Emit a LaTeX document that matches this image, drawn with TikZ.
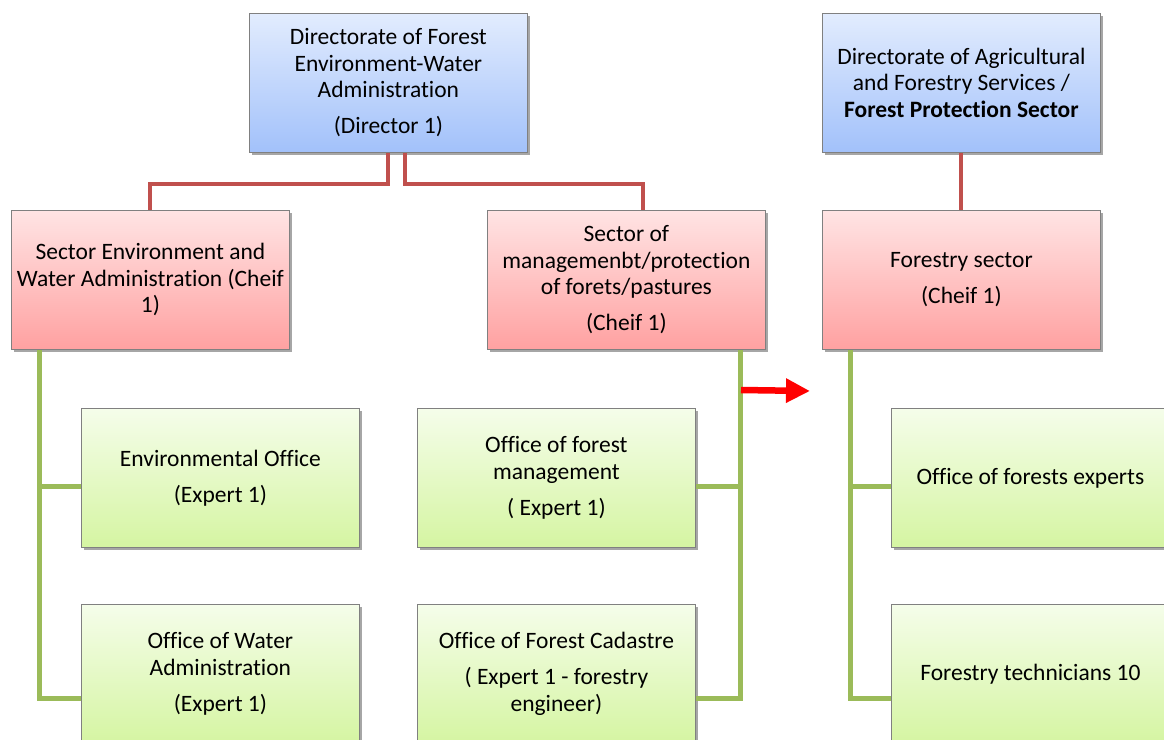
\documentclass[tikz,border=0pt]{standalone}
\usepackage{fontspec}
\setmainfont{Carlito}[Ligatures=NoCommon]
\usetikzlibrary{shadows}
\usetikzlibrary{arrows.meta}
\definecolor{blueTop}{HTML}{E2ECFE}
\definecolor{blueBot}{HTML}{A2C1FA}
\definecolor{pinkTop}{HTML}{FFE4E4}
\definecolor{pinkBot}{HTML}{FFA1A1}
\definecolor{greenTop}{HTML}{F5FDEA}
\definecolor{greenBot}{HTML}{D5F5A2}
\definecolor{linkRed}{HTML}{C0504D}
\definecolor{linkGreen}{HTML}{9BBB59}
\tikzset{
	orgbox/.style={draw=black!50, line width=0.8pt, minimum width=278pt, minimum height=139pt,
		align=center, inner sep=0pt, anchor=north west, font=\fontsize{23.5}{26.5}\selectfont,
		drop shadow={shadow xshift=2.5pt, shadow yshift=-3pt, opacity=0.35, fill=black}},
	dirbox/.style={orgbox, top color=blueTop, bottom color=blueBot},
	secbox/.style={orgbox, top color=pinkTop, bottom color=pinkBot},
	offbox/.style={orgbox, top color=greenTop, bottom color=greenBot},
	redlink/.style={draw=linkRed, line width=4pt},
	greenlink/.style={draw=linkGreen, line width=5pt},
}
\begin{document}
\begin{tikzpicture}[x=1pt,y=-1pt]
	\useasboundingbox (0,0) rectangle (1164,739);
	
	%directorates
	\node[dirbox] (dirFor) at (249,13) {Directorate of Forest\\Environment-Water\\Administration\\[9.5pt](Director 1)};
	\node[dirbox] (dirAgr) at (822,13) {Directorate of Agricultural\\and Forestry Services /\\\textbf{Forest Protection Sector}};
	
	%sectors
	\node[secbox] (secEnv) at (11,210) {Sector Environment and\\Water Administration (Cheif\\1)};
	\node[secbox] (secMan) at (487,210) {Sector of\\managemenbt/protection\\of forets/pastures\\[9.5pt](Cheif 1)};
	\node[secbox] (secFor) at (822,210) {Forestry sector\\[9.5pt](Cheif 1)};
	
	%offices
	\node[offbox] (offEnv) at (81,408) {Environmental Office\\[9.5pt](Expert 1)};
	\node[offbox] (offWat) at (81,604) {Office of Water\\Administration\\[9.5pt](Expert 1)};
	\node[offbox] (offMan) at (417,408) {Office of forest\\management\\[9.5pt]( Expert 1)};
	\node[offbox] (offCad) at (417,604) {Office of Forest Cadastre\\[9.5pt]( Expert 1 - forestry\\engineer)};
	\node[offbox] (offExp) at (891,408) {Office of forests experts};
	\node[offbox] (offTec) at (891,604) {Forestry technicians 10};
	
	%red links
	\draw[redlink] (dirFor.south) -- ++(0,31) -| (secEnv.north);
	\draw[redlink] ([xshift=17pt]dirFor.south) -- ++(0,31) -| ([xshift=17pt]secMan.north);
	\draw[redlink] (dirAgr.south) -- (secFor.north);
	
	%green links
	\draw[greenlink] ([xshift=28.5pt]secEnv.south west) |- ([yshift=-9pt]offEnv.west);
	\draw[greenlink] ([xshift=28.5pt]secEnv.south west) |- ([yshift=-24.5pt]offWat.west);
	\draw[greenlink] ([xshift=-25pt]secMan.south east) |- ([yshift=-9pt]offMan.east);
	\draw[greenlink] ([xshift=-25pt]secMan.south east) |- ([yshift=-24.5pt]offCad.east);
	\draw[greenlink] ([xshift=28.5pt]secFor.south west) |- ([yshift=-9pt]offExp.west);
	\draw[greenlink] ([xshift=28.5pt]secFor.south west) |- ([yshift=-24.5pt]offTec.west);
	
	%red arrow
	\coordinate (arrS) at (741,390);
	\coordinate (arrE) at (810,391);
	\draw[red, line width=6.5pt, -{Triangle[length=24pt,width=23pt]}] (arrS) -- (arrE);
\end{tikzpicture}
\end{document}
